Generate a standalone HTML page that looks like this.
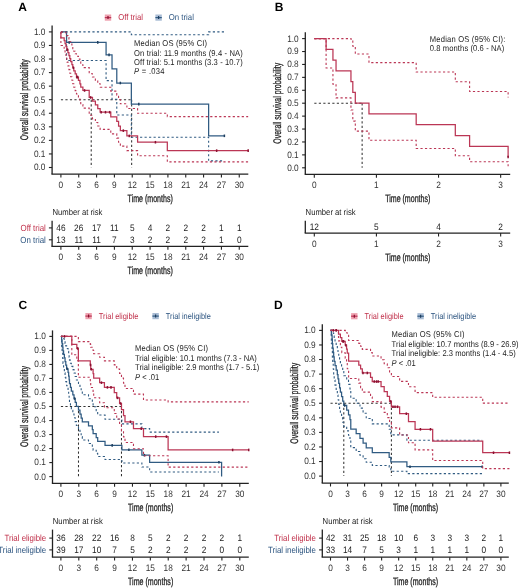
<!DOCTYPE html>
<html><head><meta charset="utf-8"><style>
html,body{margin:0;padding:0;background:#fff;}
svg{display:block;will-change:transform;}
text{font-family:"Liberation Sans",sans-serif;text-rendering:geometricPrecision;}
</style></head><body>
<svg width="520" height="588" viewBox="0 0 520 588">
<rect width="520" height="588" fill="#fff"/>
<text transform="translate(18.20,10.60) scale(1,1.0)" font-size="12" text-anchor="start" fill="#000" font-weight="bold" font-style="normal">A</text>
<rect x="104.80" y="14.50" width="6.4" height="6.2" fill="#eea2b0"/>
<line x1="104.80" y1="17.60" x2="111.20" y2="17.60" stroke="#bb3655" stroke-width="1.2"/>
<line x1="108.00" y1="16.10" x2="108.00" y2="19.10" stroke="#8a1030" stroke-width="1.2"/>
<text transform="translate(118.20,20.30) scale(1,1.13)" font-size="7.6" text-anchor="start" fill="#c0304a" font-weight="normal" font-style="normal" textLength="24.7" lengthAdjust="spacingAndGlyphs">Off trial</text>
<rect x="155.40" y="14.50" width="6.4" height="6.2" fill="#a9bcd4"/>
<line x1="155.40" y1="17.60" x2="161.80" y2="17.60" stroke="#305b82" stroke-width="1.2"/>
<line x1="158.60" y1="16.10" x2="158.60" y2="19.10" stroke="#1f3f5f" stroke-width="1.2"/>
<text transform="translate(168.80,20.30) scale(1,1.13)" font-size="7.6" text-anchor="start" fill="#2d5580" font-weight="normal" font-style="normal" textLength="25.1" lengthAdjust="spacingAndGlyphs">On trial</text>
<line x1="52.10" y1="25.40" x2="52.10" y2="174.20" stroke="#222" stroke-width="1.3"/>
<line x1="51.45" y1="174.20" x2="248.30" y2="174.20" stroke="#222" stroke-width="1.3"/>
<line x1="48.90" y1="167.50" x2="52.10" y2="167.50" stroke="#222" stroke-width="1.1"/>
<text transform="translate(45.50,170.40) scale(1,1.13)" font-size="8.3" text-anchor="end" fill="#333" font-weight="normal" font-style="normal">0.0</text>
<line x1="48.90" y1="153.94" x2="52.10" y2="153.94" stroke="#222" stroke-width="1.1"/>
<text transform="translate(45.50,156.84) scale(1,1.13)" font-size="8.3" text-anchor="end" fill="#333" font-weight="normal" font-style="normal">0.1</text>
<line x1="48.90" y1="140.38" x2="52.10" y2="140.38" stroke="#222" stroke-width="1.1"/>
<text transform="translate(45.50,143.28) scale(1,1.13)" font-size="8.3" text-anchor="end" fill="#333" font-weight="normal" font-style="normal">0.2</text>
<line x1="48.90" y1="126.82" x2="52.10" y2="126.82" stroke="#222" stroke-width="1.1"/>
<text transform="translate(45.50,129.72) scale(1,1.13)" font-size="8.3" text-anchor="end" fill="#333" font-weight="normal" font-style="normal">0.3</text>
<line x1="48.90" y1="113.26" x2="52.10" y2="113.26" stroke="#222" stroke-width="1.1"/>
<text transform="translate(45.50,116.16) scale(1,1.13)" font-size="8.3" text-anchor="end" fill="#333" font-weight="normal" font-style="normal">0.4</text>
<line x1="48.90" y1="99.70" x2="52.10" y2="99.70" stroke="#222" stroke-width="1.1"/>
<text transform="translate(45.50,102.60) scale(1,1.13)" font-size="8.3" text-anchor="end" fill="#333" font-weight="normal" font-style="normal">0.5</text>
<line x1="48.90" y1="86.14" x2="52.10" y2="86.14" stroke="#222" stroke-width="1.1"/>
<text transform="translate(45.50,89.04) scale(1,1.13)" font-size="8.3" text-anchor="end" fill="#333" font-weight="normal" font-style="normal">0.6</text>
<line x1="48.90" y1="72.58" x2="52.10" y2="72.58" stroke="#222" stroke-width="1.1"/>
<text transform="translate(45.50,75.48) scale(1,1.13)" font-size="8.3" text-anchor="end" fill="#333" font-weight="normal" font-style="normal">0.7</text>
<line x1="48.90" y1="59.02" x2="52.10" y2="59.02" stroke="#222" stroke-width="1.1"/>
<text transform="translate(45.50,61.92) scale(1,1.13)" font-size="8.3" text-anchor="end" fill="#333" font-weight="normal" font-style="normal">0.8</text>
<line x1="48.90" y1="45.46" x2="52.10" y2="45.46" stroke="#222" stroke-width="1.1"/>
<text transform="translate(45.50,48.36) scale(1,1.13)" font-size="8.3" text-anchor="end" fill="#333" font-weight="normal" font-style="normal">0.9</text>
<line x1="48.90" y1="31.90" x2="52.10" y2="31.90" stroke="#222" stroke-width="1.1"/>
<text transform="translate(45.50,34.80) scale(1,1.13)" font-size="8.3" text-anchor="end" fill="#333" font-weight="normal" font-style="normal">1.0</text>
<line x1="60.90" y1="174.20" x2="60.90" y2="177.60" stroke="#222" stroke-width="1.1"/>
<text transform="translate(60.90,187.90) scale(1,1.13)" font-size="8.3" text-anchor="middle" fill="#333" font-weight="normal" font-style="normal">0</text>
<line x1="78.73" y1="174.20" x2="78.73" y2="177.60" stroke="#222" stroke-width="1.1"/>
<text transform="translate(78.73,187.90) scale(1,1.13)" font-size="8.3" text-anchor="middle" fill="#333" font-weight="normal" font-style="normal">3</text>
<line x1="96.57" y1="174.20" x2="96.57" y2="177.60" stroke="#222" stroke-width="1.1"/>
<text transform="translate(96.57,187.90) scale(1,1.13)" font-size="8.3" text-anchor="middle" fill="#333" font-weight="normal" font-style="normal">6</text>
<line x1="114.41" y1="174.20" x2="114.41" y2="177.60" stroke="#222" stroke-width="1.1"/>
<text transform="translate(114.41,187.90) scale(1,1.13)" font-size="8.3" text-anchor="middle" fill="#333" font-weight="normal" font-style="normal">9</text>
<line x1="132.24" y1="174.20" x2="132.24" y2="177.60" stroke="#222" stroke-width="1.1"/>
<text transform="translate(132.24,187.90) scale(1,1.13)" font-size="8.3" text-anchor="middle" fill="#333" font-weight="normal" font-style="normal">12</text>
<line x1="150.08" y1="174.20" x2="150.08" y2="177.60" stroke="#222" stroke-width="1.1"/>
<text transform="translate(150.08,187.90) scale(1,1.13)" font-size="8.3" text-anchor="middle" fill="#333" font-weight="normal" font-style="normal">15</text>
<line x1="167.91" y1="174.20" x2="167.91" y2="177.60" stroke="#222" stroke-width="1.1"/>
<text transform="translate(167.91,187.90) scale(1,1.13)" font-size="8.3" text-anchor="middle" fill="#333" font-weight="normal" font-style="normal">18</text>
<line x1="185.75" y1="174.20" x2="185.75" y2="177.60" stroke="#222" stroke-width="1.1"/>
<text transform="translate(185.75,187.90) scale(1,1.13)" font-size="8.3" text-anchor="middle" fill="#333" font-weight="normal" font-style="normal">21</text>
<line x1="203.58" y1="174.20" x2="203.58" y2="177.60" stroke="#222" stroke-width="1.1"/>
<text transform="translate(203.58,187.90) scale(1,1.13)" font-size="8.3" text-anchor="middle" fill="#333" font-weight="normal" font-style="normal">24</text>
<line x1="221.42" y1="174.20" x2="221.42" y2="177.60" stroke="#222" stroke-width="1.1"/>
<text transform="translate(221.42,187.90) scale(1,1.13)" font-size="8.3" text-anchor="middle" fill="#333" font-weight="normal" font-style="normal">27</text>
<line x1="239.25" y1="174.20" x2="239.25" y2="177.60" stroke="#222" stroke-width="1.1"/>
<text transform="translate(239.25,187.90) scale(1,1.13)" font-size="8.3" text-anchor="middle" fill="#333" font-weight="normal" font-style="normal">30</text>
<text x="0" y="0" font-size="9.8" text-anchor="middle" fill="#222" stroke="#222" stroke-width="0.28" transform="translate(150.20,202.10) scale(0.72,1.08)">Time (months)</text>
<text x="0" y="0" font-size="10.2" text-anchor="middle" fill="#222" stroke="#222" stroke-width="0.28" transform="translate(28.00,99.70) rotate(-90) scale(0.68,1.08)">Overall survival probability</text>
<path d="M60.90,99.70H131.65" fill="none" stroke="#333" stroke-width="1.05" stroke-dasharray="2.2,2.3"/>
<path d="M91.22,99.70V167.50" fill="none" stroke="#333" stroke-width="1.05" stroke-dasharray="2.2,2.3"/>
<path d="M131.65,99.70V167.50" fill="none" stroke="#333" stroke-width="1.05" stroke-dasharray="2.2,2.3"/>
<path d="M60.90,31.90H66.55V60.51H106.08V80.59H112.03V99.32H116.78V115.05H131.35V137.26H208.63V160.92H224.39" fill="none" stroke="#305b82" stroke-width="1.1" stroke-dasharray="2.2,2.3"/>
<path d="M60.90,31.90H66.55V31.90H106.08V31.90H112.03V31.90H116.78V31.90H131.35V34.70H208.63V31.90H224.39" fill="none" stroke="#305b82" stroke-width="1.1" stroke-dasharray="2.2,2.3"/>
<path d="M60.90,31.90H66.55V42.33H106.08V54.85H112.03V68.93H116.78V83.01H131.35V104.13H208.63V135.82H224.39" fill="none" stroke="#305b82" stroke-width="1.25"/>
<line x1="69.22" y1="41.03" x2="69.22" y2="43.63" stroke="#1f3f5f" stroke-width="1.5"/>
<line x1="97.76" y1="41.03" x2="97.76" y2="43.63" stroke="#1f3f5f" stroke-width="1.5"/>
<line x1="109.05" y1="53.55" x2="109.05" y2="56.15" stroke="#1f3f5f" stroke-width="1.5"/>
<line x1="120.35" y1="81.71" x2="120.35" y2="84.31" stroke="#1f3f5f" stroke-width="1.5"/>
<line x1="138.78" y1="102.83" x2="138.78" y2="105.43" stroke="#1f3f5f" stroke-width="1.5"/>
<line x1="224.39" y1="134.52" x2="224.39" y2="137.12" stroke="#1f3f5f" stroke-width="1.5"/>
<path d="M60.90,31.90H60.90V45.55H64.17V50.06H65.06V54.25H65.95V58.24H66.84V62.07H67.92V65.90H68.93V69.62H69.82V73.25H70.71V76.80H71.90V80.28H72.79V83.70H73.80V87.19H75.17V90.62H76.48V93.99H78.44V97.61H79.92V101.17H80.76V104.67H82.90V108.11H89.20V115.19H92.47V118.86H95.38V122.46H97.76V125.98H100.14V129.42H110.78V133.87H116.78V138.14H118.57V142.24H120.35V146.17H126.89V150.59H137.59V155.72H167.32V161.92H248.17" fill="none" stroke="#bb3655" stroke-width="1.1" stroke-dasharray="2.2,2.3"/>
<path d="M60.90,31.90H60.90V31.90H64.17V31.90H65.06V32.14H65.95V33.81H66.84V35.62H67.92V37.58H68.93V39.64H69.82V41.80H70.71V44.04H71.90V46.34H72.79V48.71H73.80V51.18H75.17V53.70H76.48V56.28H78.44V59.02H79.92V61.82H80.76V64.69H82.90V67.61H89.20V73.77H92.47V77.03H95.38V80.36H97.76V83.77H100.14V87.24H110.78V91.15H116.78V95.21H118.57V99.44H120.35V103.82H126.89V108.49H137.59V113.29H167.32V116.59H248.17" fill="none" stroke="#bb3655" stroke-width="1.1" stroke-dasharray="2.2,2.3"/>
<path d="M60.90,31.90H60.90V37.80H64.17V40.74H65.06V43.69H65.95V46.64H66.84V49.59H67.92V52.61H68.93V55.63H69.82V58.66H70.71V61.68H71.90V64.70H72.79V67.73H73.80V70.85H75.17V73.96H76.48V77.08H78.44V80.43H79.92V83.78H80.76V87.13H82.90V90.48H89.20V97.48H92.47V101.16H95.38V104.85H97.76V108.53H100.14V112.22H110.78V116.83H116.78V121.43H118.57V126.04H120.35V130.65H126.89V135.91H137.59V142.23H167.32V150.65H248.17" fill="none" stroke="#bb3655" stroke-width="1.25"/>
<line x1="67.44" y1="48.29" x2="67.44" y2="50.89" stroke="#8a1030" stroke-width="1.5"/>
<line x1="73.38" y1="66.43" x2="73.38" y2="69.03" stroke="#8a1030" stroke-width="1.5"/>
<line x1="76.95" y1="75.78" x2="76.95" y2="78.38" stroke="#8a1030" stroke-width="1.5"/>
<line x1="77.55" y1="75.78" x2="77.55" y2="78.38" stroke="#8a1030" stroke-width="1.5"/>
<line x1="84.56" y1="89.18" x2="84.56" y2="91.78" stroke="#8a1030" stroke-width="1.5"/>
<line x1="90.62" y1="96.18" x2="90.62" y2="98.78" stroke="#8a1030" stroke-width="1.5"/>
<line x1="101.15" y1="110.92" x2="101.15" y2="113.52" stroke="#8a1030" stroke-width="1.5"/>
<line x1="105.49" y1="110.92" x2="105.49" y2="113.52" stroke="#8a1030" stroke-width="1.5"/>
<line x1="109.65" y1="110.92" x2="109.65" y2="113.52" stroke="#8a1030" stroke-width="1.5"/>
<line x1="123.32" y1="129.35" x2="123.32" y2="131.95" stroke="#8a1030" stroke-width="1.5"/>
<line x1="129.27" y1="134.61" x2="129.27" y2="137.21" stroke="#8a1030" stroke-width="1.5"/>
<line x1="155.43" y1="140.93" x2="155.43" y2="143.53" stroke="#8a1030" stroke-width="1.5"/>
<line x1="216.66" y1="149.35" x2="216.66" y2="151.95" stroke="#8a1030" stroke-width="1.5"/>
<line x1="248.17" y1="149.35" x2="248.17" y2="151.95" stroke="#8a1030" stroke-width="1.5"/>
<text transform="translate(134.10,45.50) scale(1,1.12)" font-size="7.6" text-anchor="start" fill="#222" font-weight="normal" font-style="normal" textLength="73.0" lengthAdjust="spacing">Median OS (95% CI)</text>
<text transform="translate(134.10,55.50) scale(1,1.12)" font-size="7.6" text-anchor="start" fill="#222" font-weight="normal" font-style="normal" textLength="108.6" lengthAdjust="spacing">On trial: 11.9 months (9.4 - NA)</text>
<text transform="translate(134.10,64.90) scale(1,1.12)" font-size="7.6" text-anchor="start" fill="#222" font-weight="normal" font-style="normal" textLength="108.6" lengthAdjust="spacing">Off trial: 5.1 months (3.3 - 10.7)</text>
<text transform="translate(134.10,74.00) scale(1,1.12)" font-size="7.6" fill="#222" textLength="30.5" lengthAdjust="spacing"><tspan font-style="italic">P</tspan> = .034</text>
<text transform="translate(52.40,215.20) scale(1,1.13)" font-size="7.7" text-anchor="start" fill="#222" font-weight="normal" font-style="normal">Number at risk</text>
<line x1="52.10" y1="220.80" x2="52.10" y2="246.40" stroke="#222" stroke-width="1.3"/>
<line x1="51.45" y1="246.40" x2="248.30" y2="246.40" stroke="#222" stroke-width="1.3"/>
<line x1="48.90" y1="227.90" x2="52.10" y2="227.90" stroke="#222" stroke-width="1.1"/>
<text transform="translate(45.80,230.70) scale(1,1.13)" font-size="7.9" text-anchor="end" fill="#c0304a" font-weight="normal" font-style="normal">Off trial</text>
<text transform="translate(60.90,230.80) scale(1,1.13)" font-size="8.3" text-anchor="middle" fill="#222" font-weight="normal" font-style="normal">46</text>
<text transform="translate(78.73,230.80) scale(1,1.13)" font-size="8.3" text-anchor="middle" fill="#222" font-weight="normal" font-style="normal">26</text>
<text transform="translate(96.57,230.80) scale(1,1.13)" font-size="8.3" text-anchor="middle" fill="#222" font-weight="normal" font-style="normal">17</text>
<text transform="translate(114.41,230.80) scale(1,1.13)" font-size="8.3" text-anchor="middle" fill="#222" font-weight="normal" font-style="normal">11</text>
<text transform="translate(132.24,230.80) scale(1,1.13)" font-size="8.3" text-anchor="middle" fill="#222" font-weight="normal" font-style="normal">5</text>
<text transform="translate(150.08,230.80) scale(1,1.13)" font-size="8.3" text-anchor="middle" fill="#222" font-weight="normal" font-style="normal">4</text>
<text transform="translate(167.91,230.80) scale(1,1.13)" font-size="8.3" text-anchor="middle" fill="#222" font-weight="normal" font-style="normal">2</text>
<text transform="translate(185.75,230.80) scale(1,1.13)" font-size="8.3" text-anchor="middle" fill="#222" font-weight="normal" font-style="normal">2</text>
<text transform="translate(203.58,230.80) scale(1,1.13)" font-size="8.3" text-anchor="middle" fill="#222" font-weight="normal" font-style="normal">2</text>
<text transform="translate(221.42,230.80) scale(1,1.13)" font-size="8.3" text-anchor="middle" fill="#222" font-weight="normal" font-style="normal">1</text>
<text transform="translate(239.25,230.80) scale(1,1.13)" font-size="8.3" text-anchor="middle" fill="#222" font-weight="normal" font-style="normal">1</text>
<line x1="48.90" y1="239.80" x2="52.10" y2="239.80" stroke="#222" stroke-width="1.1"/>
<text transform="translate(45.80,242.60) scale(1,1.13)" font-size="7.9" text-anchor="end" fill="#2d5580" font-weight="normal" font-style="normal">On trial</text>
<text transform="translate(60.90,242.70) scale(1,1.13)" font-size="8.3" text-anchor="middle" fill="#222" font-weight="normal" font-style="normal">13</text>
<text transform="translate(78.73,242.70) scale(1,1.13)" font-size="8.3" text-anchor="middle" fill="#222" font-weight="normal" font-style="normal">11</text>
<text transform="translate(96.57,242.70) scale(1,1.13)" font-size="8.3" text-anchor="middle" fill="#222" font-weight="normal" font-style="normal">11</text>
<text transform="translate(114.41,242.70) scale(1,1.13)" font-size="8.3" text-anchor="middle" fill="#222" font-weight="normal" font-style="normal">7</text>
<text transform="translate(132.24,242.70) scale(1,1.13)" font-size="8.3" text-anchor="middle" fill="#222" font-weight="normal" font-style="normal">3</text>
<text transform="translate(150.08,242.70) scale(1,1.13)" font-size="8.3" text-anchor="middle" fill="#222" font-weight="normal" font-style="normal">2</text>
<text transform="translate(167.91,242.70) scale(1,1.13)" font-size="8.3" text-anchor="middle" fill="#222" font-weight="normal" font-style="normal">2</text>
<text transform="translate(185.75,242.70) scale(1,1.13)" font-size="8.3" text-anchor="middle" fill="#222" font-weight="normal" font-style="normal">2</text>
<text transform="translate(203.58,242.70) scale(1,1.13)" font-size="8.3" text-anchor="middle" fill="#222" font-weight="normal" font-style="normal">2</text>
<text transform="translate(221.42,242.70) scale(1,1.13)" font-size="8.3" text-anchor="middle" fill="#222" font-weight="normal" font-style="normal">1</text>
<text transform="translate(239.25,242.70) scale(1,1.13)" font-size="8.3" text-anchor="middle" fill="#222" font-weight="normal" font-style="normal">0</text>
<line x1="60.90" y1="246.40" x2="60.90" y2="249.80" stroke="#222" stroke-width="1.1"/>
<text transform="translate(60.90,260.10) scale(1,1.13)" font-size="8.3" text-anchor="middle" fill="#333" font-weight="normal" font-style="normal">0</text>
<line x1="78.73" y1="246.40" x2="78.73" y2="249.80" stroke="#222" stroke-width="1.1"/>
<text transform="translate(78.73,260.10) scale(1,1.13)" font-size="8.3" text-anchor="middle" fill="#333" font-weight="normal" font-style="normal">3</text>
<line x1="96.57" y1="246.40" x2="96.57" y2="249.80" stroke="#222" stroke-width="1.1"/>
<text transform="translate(96.57,260.10) scale(1,1.13)" font-size="8.3" text-anchor="middle" fill="#333" font-weight="normal" font-style="normal">6</text>
<line x1="114.41" y1="246.40" x2="114.41" y2="249.80" stroke="#222" stroke-width="1.1"/>
<text transform="translate(114.41,260.10) scale(1,1.13)" font-size="8.3" text-anchor="middle" fill="#333" font-weight="normal" font-style="normal">9</text>
<line x1="132.24" y1="246.40" x2="132.24" y2="249.80" stroke="#222" stroke-width="1.1"/>
<text transform="translate(132.24,260.10) scale(1,1.13)" font-size="8.3" text-anchor="middle" fill="#333" font-weight="normal" font-style="normal">12</text>
<line x1="150.08" y1="246.40" x2="150.08" y2="249.80" stroke="#222" stroke-width="1.1"/>
<text transform="translate(150.08,260.10) scale(1,1.13)" font-size="8.3" text-anchor="middle" fill="#333" font-weight="normal" font-style="normal">15</text>
<line x1="167.91" y1="246.40" x2="167.91" y2="249.80" stroke="#222" stroke-width="1.1"/>
<text transform="translate(167.91,260.10) scale(1,1.13)" font-size="8.3" text-anchor="middle" fill="#333" font-weight="normal" font-style="normal">18</text>
<line x1="185.75" y1="246.40" x2="185.75" y2="249.80" stroke="#222" stroke-width="1.1"/>
<text transform="translate(185.75,260.10) scale(1,1.13)" font-size="8.3" text-anchor="middle" fill="#333" font-weight="normal" font-style="normal">21</text>
<line x1="203.58" y1="246.40" x2="203.58" y2="249.80" stroke="#222" stroke-width="1.1"/>
<text transform="translate(203.58,260.10) scale(1,1.13)" font-size="8.3" text-anchor="middle" fill="#333" font-weight="normal" font-style="normal">24</text>
<line x1="221.42" y1="246.40" x2="221.42" y2="249.80" stroke="#222" stroke-width="1.1"/>
<text transform="translate(221.42,260.10) scale(1,1.13)" font-size="8.3" text-anchor="middle" fill="#333" font-weight="normal" font-style="normal">27</text>
<line x1="239.25" y1="246.40" x2="239.25" y2="249.80" stroke="#222" stroke-width="1.1"/>
<text transform="translate(239.25,260.10) scale(1,1.13)" font-size="8.3" text-anchor="middle" fill="#333" font-weight="normal" font-style="normal">30</text>
<text x="0" y="0" font-size="9.8" text-anchor="middle" fill="#222" stroke="#222" stroke-width="0.28" transform="translate(150.20,274.30) scale(0.72,1.08)">Time (months)</text>
<text transform="translate(274.80,10.60) scale(1,1.0)" font-size="12" text-anchor="start" fill="#000" font-weight="bold" font-style="normal">B</text>
<line x1="305.30" y1="32.20" x2="305.30" y2="174.30" stroke="#222" stroke-width="1.3"/>
<line x1="304.65" y1="174.30" x2="510.20" y2="174.30" stroke="#222" stroke-width="1.3"/>
<line x1="302.10" y1="167.80" x2="305.30" y2="167.80" stroke="#222" stroke-width="1.1"/>
<text transform="translate(298.70,170.70) scale(1,1.13)" font-size="8.3" text-anchor="end" fill="#333" font-weight="normal" font-style="normal">0.0</text>
<line x1="302.10" y1="154.88" x2="305.30" y2="154.88" stroke="#222" stroke-width="1.1"/>
<text transform="translate(298.70,157.78) scale(1,1.13)" font-size="8.3" text-anchor="end" fill="#333" font-weight="normal" font-style="normal">0.1</text>
<line x1="302.10" y1="141.96" x2="305.30" y2="141.96" stroke="#222" stroke-width="1.1"/>
<text transform="translate(298.70,144.86) scale(1,1.13)" font-size="8.3" text-anchor="end" fill="#333" font-weight="normal" font-style="normal">0.2</text>
<line x1="302.10" y1="129.04" x2="305.30" y2="129.04" stroke="#222" stroke-width="1.1"/>
<text transform="translate(298.70,131.94) scale(1,1.13)" font-size="8.3" text-anchor="end" fill="#333" font-weight="normal" font-style="normal">0.3</text>
<line x1="302.10" y1="116.12" x2="305.30" y2="116.12" stroke="#222" stroke-width="1.1"/>
<text transform="translate(298.70,119.02) scale(1,1.13)" font-size="8.3" text-anchor="end" fill="#333" font-weight="normal" font-style="normal">0.4</text>
<line x1="302.10" y1="103.20" x2="305.30" y2="103.20" stroke="#222" stroke-width="1.1"/>
<text transform="translate(298.70,106.10) scale(1,1.13)" font-size="8.3" text-anchor="end" fill="#333" font-weight="normal" font-style="normal">0.5</text>
<line x1="302.10" y1="90.28" x2="305.30" y2="90.28" stroke="#222" stroke-width="1.1"/>
<text transform="translate(298.70,93.18) scale(1,1.13)" font-size="8.3" text-anchor="end" fill="#333" font-weight="normal" font-style="normal">0.6</text>
<line x1="302.10" y1="77.36" x2="305.30" y2="77.36" stroke="#222" stroke-width="1.1"/>
<text transform="translate(298.70,80.26) scale(1,1.13)" font-size="8.3" text-anchor="end" fill="#333" font-weight="normal" font-style="normal">0.7</text>
<line x1="302.10" y1="64.44" x2="305.30" y2="64.44" stroke="#222" stroke-width="1.1"/>
<text transform="translate(298.70,67.34) scale(1,1.13)" font-size="8.3" text-anchor="end" fill="#333" font-weight="normal" font-style="normal">0.8</text>
<line x1="302.10" y1="51.52" x2="305.30" y2="51.52" stroke="#222" stroke-width="1.1"/>
<text transform="translate(298.70,54.42) scale(1,1.13)" font-size="8.3" text-anchor="end" fill="#333" font-weight="normal" font-style="normal">0.9</text>
<line x1="302.10" y1="38.60" x2="305.30" y2="38.60" stroke="#222" stroke-width="1.1"/>
<text transform="translate(298.70,41.50) scale(1,1.13)" font-size="8.3" text-anchor="end" fill="#333" font-weight="normal" font-style="normal">1.0</text>
<line x1="314.30" y1="174.30" x2="314.30" y2="177.70" stroke="#222" stroke-width="1.1"/>
<text transform="translate(314.30,188.00) scale(1,1.13)" font-size="8.3" text-anchor="middle" fill="#333" font-weight="normal" font-style="normal">0</text>
<line x1="376.42" y1="174.30" x2="376.42" y2="177.70" stroke="#222" stroke-width="1.1"/>
<text transform="translate(376.42,188.00) scale(1,1.13)" font-size="8.3" text-anchor="middle" fill="#333" font-weight="normal" font-style="normal">1</text>
<line x1="438.54" y1="174.30" x2="438.54" y2="177.70" stroke="#222" stroke-width="1.1"/>
<text transform="translate(438.54,188.00) scale(1,1.13)" font-size="8.3" text-anchor="middle" fill="#333" font-weight="normal" font-style="normal">2</text>
<line x1="500.66" y1="174.30" x2="500.66" y2="177.70" stroke="#222" stroke-width="1.1"/>
<text transform="translate(500.66,188.00) scale(1,1.13)" font-size="8.3" text-anchor="middle" fill="#333" font-weight="normal" font-style="normal">3</text>
<text x="0" y="0" font-size="9.8" text-anchor="middle" fill="#222" stroke="#222" stroke-width="0.28" transform="translate(407.75,202.20) scale(0.72,1.08)">Time (months)</text>
<text x="0" y="0" font-size="10.2" text-anchor="middle" fill="#222" stroke="#222" stroke-width="0.28" transform="translate(281.20,103.20) rotate(-90) scale(0.68,1.08)">Overall survival probability</text>
<path d="M314.30,103.20H362.13" fill="none" stroke="#333" stroke-width="1.05" stroke-dasharray="2.2,2.3"/>
<path d="M362.13,103.20V167.80" fill="none" stroke="#333" stroke-width="1.05" stroke-dasharray="2.2,2.3"/>
<path d="M314.30,38.60H326.10V67.94H332.94V84.20H336.04V97.90H350.95V110.07H352.81V121.08H355.30V131.11H368.97V140.24H416.18V148.45H455.31V155.68H469.60V161.72H508.11V166.15H508.11" fill="none" stroke="#bb3655" stroke-width="1.1" stroke-dasharray="2.2,2.3"/>
<path d="M314.30,38.60H326.10V38.60H332.94V38.60H336.04V38.60H350.95V39.29H352.81V46.22H355.30V54.05H368.97V62.65H416.18V71.94H455.31V81.74H469.60V91.49H508.11V97.48H508.11" fill="none" stroke="#bb3655" stroke-width="1.1" stroke-dasharray="2.2,2.3"/>
<path d="M314.30,38.60H326.10V49.37H332.94V60.13H336.04V70.90H350.95V81.67H352.81V92.43H355.30V103.20H368.97V113.97H416.18V124.73H455.31V135.50H469.60V146.27H508.11V157.03H508.11" fill="none" stroke="#bb3655" stroke-width="1.25"/>
<line x1="508.11" y1="155.73" x2="508.11" y2="158.33" stroke="#8a1030" stroke-width="1.5"/>
<text transform="translate(429.80,42.10) scale(1,1.12)" font-size="7.6" text-anchor="start" fill="#222" font-weight="normal" font-style="normal" textLength="75.6" lengthAdjust="spacing">Median OS (95% CI):</text>
<text transform="translate(429.80,51.30) scale(1,1.12)" font-size="7.6" text-anchor="start" fill="#222" font-weight="normal" font-style="normal" textLength="74.4" lengthAdjust="spacing">0.8 months (0.6 - NA)</text>
<text transform="translate(305.60,215.30) scale(1,1.13)" font-size="7.7" text-anchor="start" fill="#222" font-weight="normal" font-style="normal">Number at risk</text>
<line x1="305.30" y1="220.80" x2="305.30" y2="233.10" stroke="#222" stroke-width="1.3"/>
<line x1="304.65" y1="233.10" x2="510.20" y2="233.10" stroke="#222" stroke-width="1.3"/>
<text transform="translate(314.30,229.80) scale(1,1.13)" font-size="8.3" text-anchor="middle" fill="#222" font-weight="normal" font-style="normal">12</text>
<text transform="translate(376.42,229.80) scale(1,1.13)" font-size="8.3" text-anchor="middle" fill="#222" font-weight="normal" font-style="normal">5</text>
<text transform="translate(438.54,229.80) scale(1,1.13)" font-size="8.3" text-anchor="middle" fill="#222" font-weight="normal" font-style="normal">4</text>
<text transform="translate(500.66,229.80) scale(1,1.13)" font-size="8.3" text-anchor="middle" fill="#222" font-weight="normal" font-style="normal">2</text>
<line x1="314.30" y1="233.10" x2="314.30" y2="236.50" stroke="#222" stroke-width="1.1"/>
<text transform="translate(314.30,246.80) scale(1,1.13)" font-size="8.3" text-anchor="middle" fill="#333" font-weight="normal" font-style="normal">0</text>
<line x1="376.42" y1="233.10" x2="376.42" y2="236.50" stroke="#222" stroke-width="1.1"/>
<text transform="translate(376.42,246.80) scale(1,1.13)" font-size="8.3" text-anchor="middle" fill="#333" font-weight="normal" font-style="normal">1</text>
<line x1="438.54" y1="233.10" x2="438.54" y2="236.50" stroke="#222" stroke-width="1.1"/>
<text transform="translate(438.54,246.80) scale(1,1.13)" font-size="8.3" text-anchor="middle" fill="#333" font-weight="normal" font-style="normal">2</text>
<line x1="500.66" y1="233.10" x2="500.66" y2="236.50" stroke="#222" stroke-width="1.1"/>
<text transform="translate(500.66,246.80) scale(1,1.13)" font-size="8.3" text-anchor="middle" fill="#333" font-weight="normal" font-style="normal">3</text>
<text x="0" y="0" font-size="9.8" text-anchor="middle" fill="#222" stroke="#222" stroke-width="0.28" transform="translate(407.75,261.00) scale(0.72,1.08)">Time (months)</text>
<text transform="translate(18.60,309.30) scale(1,1.0)" font-size="12" text-anchor="start" fill="#000" font-weight="bold" font-style="normal">C</text>
<rect x="85.40" y="313.00" width="6.4" height="6.2" fill="#eea2b0"/>
<line x1="85.40" y1="316.10" x2="91.80" y2="316.10" stroke="#bb3655" stroke-width="1.2"/>
<line x1="88.60" y1="314.60" x2="88.60" y2="317.60" stroke="#8a1030" stroke-width="1.2"/>
<text transform="translate(98.80,318.80) scale(1,1.13)" font-size="7.6" text-anchor="start" fill="#c0304a" font-weight="normal" font-style="normal" textLength="39.7" lengthAdjust="spacingAndGlyphs">Trial eligible</text>
<rect x="152.40" y="313.00" width="6.4" height="6.2" fill="#a9bcd4"/>
<line x1="152.40" y1="316.10" x2="158.80" y2="316.10" stroke="#305b82" stroke-width="1.2"/>
<line x1="155.60" y1="314.60" x2="155.60" y2="317.60" stroke="#1f3f5f" stroke-width="1.2"/>
<text transform="translate(165.80,318.80) scale(1,1.13)" font-size="7.6" text-anchor="start" fill="#2d5580" font-weight="normal" font-style="normal" textLength="45.0" lengthAdjust="spacingAndGlyphs">Trial ineligible</text>
<line x1="52.50" y1="330.40" x2="52.50" y2="483.30" stroke="#222" stroke-width="1.3"/>
<line x1="51.85" y1="483.30" x2="248.80" y2="483.30" stroke="#222" stroke-width="1.3"/>
<line x1="49.30" y1="476.60" x2="52.50" y2="476.60" stroke="#222" stroke-width="1.1"/>
<text transform="translate(45.90,479.50) scale(1,1.13)" font-size="8.3" text-anchor="end" fill="#333" font-weight="normal" font-style="normal">0.0</text>
<line x1="49.30" y1="462.58" x2="52.50" y2="462.58" stroke="#222" stroke-width="1.1"/>
<text transform="translate(45.90,465.48) scale(1,1.13)" font-size="8.3" text-anchor="end" fill="#333" font-weight="normal" font-style="normal">0.1</text>
<line x1="49.30" y1="448.56" x2="52.50" y2="448.56" stroke="#222" stroke-width="1.1"/>
<text transform="translate(45.90,451.46) scale(1,1.13)" font-size="8.3" text-anchor="end" fill="#333" font-weight="normal" font-style="normal">0.2</text>
<line x1="49.30" y1="434.54" x2="52.50" y2="434.54" stroke="#222" stroke-width="1.1"/>
<text transform="translate(45.90,437.44) scale(1,1.13)" font-size="8.3" text-anchor="end" fill="#333" font-weight="normal" font-style="normal">0.3</text>
<line x1="49.30" y1="420.52" x2="52.50" y2="420.52" stroke="#222" stroke-width="1.1"/>
<text transform="translate(45.90,423.42) scale(1,1.13)" font-size="8.3" text-anchor="end" fill="#333" font-weight="normal" font-style="normal">0.4</text>
<line x1="49.30" y1="406.50" x2="52.50" y2="406.50" stroke="#222" stroke-width="1.1"/>
<text transform="translate(45.90,409.40) scale(1,1.13)" font-size="8.3" text-anchor="end" fill="#333" font-weight="normal" font-style="normal">0.5</text>
<line x1="49.30" y1="392.48" x2="52.50" y2="392.48" stroke="#222" stroke-width="1.1"/>
<text transform="translate(45.90,395.38) scale(1,1.13)" font-size="8.3" text-anchor="end" fill="#333" font-weight="normal" font-style="normal">0.6</text>
<line x1="49.30" y1="378.46" x2="52.50" y2="378.46" stroke="#222" stroke-width="1.1"/>
<text transform="translate(45.90,381.36) scale(1,1.13)" font-size="8.3" text-anchor="end" fill="#333" font-weight="normal" font-style="normal">0.7</text>
<line x1="49.30" y1="364.44" x2="52.50" y2="364.44" stroke="#222" stroke-width="1.1"/>
<text transform="translate(45.90,367.34) scale(1,1.13)" font-size="8.3" text-anchor="end" fill="#333" font-weight="normal" font-style="normal">0.8</text>
<line x1="49.30" y1="350.42" x2="52.50" y2="350.42" stroke="#222" stroke-width="1.1"/>
<text transform="translate(45.90,353.32) scale(1,1.13)" font-size="8.3" text-anchor="end" fill="#333" font-weight="normal" font-style="normal">0.9</text>
<line x1="49.30" y1="336.40" x2="52.50" y2="336.40" stroke="#222" stroke-width="1.1"/>
<text transform="translate(45.90,339.30) scale(1,1.13)" font-size="8.3" text-anchor="end" fill="#333" font-weight="normal" font-style="normal">1.0</text>
<line x1="60.90" y1="483.30" x2="60.90" y2="486.70" stroke="#222" stroke-width="1.1"/>
<text transform="translate(60.90,497.00) scale(1,1.13)" font-size="8.3" text-anchor="middle" fill="#333" font-weight="normal" font-style="normal">0</text>
<line x1="78.79" y1="483.30" x2="78.79" y2="486.70" stroke="#222" stroke-width="1.1"/>
<text transform="translate(78.79,497.00) scale(1,1.13)" font-size="8.3" text-anchor="middle" fill="#333" font-weight="normal" font-style="normal">3</text>
<line x1="96.68" y1="483.30" x2="96.68" y2="486.70" stroke="#222" stroke-width="1.1"/>
<text transform="translate(96.68,497.00) scale(1,1.13)" font-size="8.3" text-anchor="middle" fill="#333" font-weight="normal" font-style="normal">6</text>
<line x1="114.57" y1="483.30" x2="114.57" y2="486.70" stroke="#222" stroke-width="1.1"/>
<text transform="translate(114.57,497.00) scale(1,1.13)" font-size="8.3" text-anchor="middle" fill="#333" font-weight="normal" font-style="normal">9</text>
<line x1="132.46" y1="483.30" x2="132.46" y2="486.70" stroke="#222" stroke-width="1.1"/>
<text transform="translate(132.46,497.00) scale(1,1.13)" font-size="8.3" text-anchor="middle" fill="#333" font-weight="normal" font-style="normal">12</text>
<line x1="150.34" y1="483.30" x2="150.34" y2="486.70" stroke="#222" stroke-width="1.1"/>
<text transform="translate(150.34,497.00) scale(1,1.13)" font-size="8.3" text-anchor="middle" fill="#333" font-weight="normal" font-style="normal">15</text>
<line x1="168.23" y1="483.30" x2="168.23" y2="486.70" stroke="#222" stroke-width="1.1"/>
<text transform="translate(168.23,497.00) scale(1,1.13)" font-size="8.3" text-anchor="middle" fill="#333" font-weight="normal" font-style="normal">18</text>
<line x1="186.12" y1="483.30" x2="186.12" y2="486.70" stroke="#222" stroke-width="1.1"/>
<text transform="translate(186.12,497.00) scale(1,1.13)" font-size="8.3" text-anchor="middle" fill="#333" font-weight="normal" font-style="normal">21</text>
<line x1="204.01" y1="483.30" x2="204.01" y2="486.70" stroke="#222" stroke-width="1.1"/>
<text transform="translate(204.01,497.00) scale(1,1.13)" font-size="8.3" text-anchor="middle" fill="#333" font-weight="normal" font-style="normal">24</text>
<line x1="221.90" y1="483.30" x2="221.90" y2="486.70" stroke="#222" stroke-width="1.1"/>
<text transform="translate(221.90,497.00) scale(1,1.13)" font-size="8.3" text-anchor="middle" fill="#333" font-weight="normal" font-style="normal">27</text>
<line x1="239.79" y1="483.30" x2="239.79" y2="486.70" stroke="#222" stroke-width="1.1"/>
<text transform="translate(239.79,497.00) scale(1,1.13)" font-size="8.3" text-anchor="middle" fill="#333" font-weight="normal" font-style="normal">30</text>
<text x="0" y="0" font-size="9.8" text-anchor="middle" fill="#222" stroke="#222" stroke-width="0.28" transform="translate(150.65,511.20) scale(0.72,1.08)">Time (months)</text>
<text x="0" y="0" font-size="10.2" text-anchor="middle" fill="#222" stroke="#222" stroke-width="0.28" transform="translate(28.30,406.50) rotate(-90) scale(0.68,1.08)">Overall survival probability</text>
<path d="M60.90,406.50H121.48" fill="none" stroke="#333" stroke-width="1.05" stroke-dasharray="2.2,2.3"/>
<path d="M78.49,406.50V476.60" fill="none" stroke="#333" stroke-width="1.05" stroke-dasharray="2.2,2.3"/>
<path d="M121.48,406.50V476.60" fill="none" stroke="#333" stroke-width="1.05" stroke-dasharray="2.2,2.3"/>
<path d="M60.90,336.40H61.62V346.78H62.09V352.95H62.69V358.39H62.99V363.45H63.58V368.23H64.36V372.83H65.07V377.27H65.79V381.58H66.62V385.79H68.06V390.07H68.65V394.26H69.13V398.36H69.49V402.38H70.44V406.33H71.34V410.20H72.83V414.01H74.02V417.75H75.21V421.65H76.40V425.48H78.49V429.23H79.98V432.92H81.17V436.53H82.31V440.06H88.51V443.52H92.33V446.91H93.10V450.21H96.20V453.42H97.69V456.55H105.03V459.57H121.90V463.01H141.88V467.04H149.63V472.02H218.92" fill="none" stroke="#305b82" stroke-width="1.1" stroke-dasharray="2.2,2.3"/>
<path d="M60.90,336.40H61.62V336.40H62.09V336.40H62.69V336.40H62.99V336.70H63.58V338.74H64.36V340.98H65.07V343.38H65.79V345.90H66.62V348.53H68.06V351.29H68.65V354.16H69.13V357.11H69.49V360.14H70.44V363.25H71.34V366.42H72.83V369.67H74.02V372.97H75.21V376.43H76.40V379.97H78.49V383.57H79.98V387.25H81.17V390.99H82.31V394.81H88.51V398.70H92.33V402.66H93.10V406.70H96.20V410.81H97.69V415.01H105.03V419.30H121.90V423.86H141.88V428.58H149.63V432.10H218.92" fill="none" stroke="#305b82" stroke-width="1.1" stroke-dasharray="2.2,2.3"/>
<path d="M60.90,336.40H61.62V339.99H62.09V343.59H62.69V347.18H62.99V350.78H63.58V354.37H64.36V357.97H65.07V361.56H65.79V365.16H66.62V368.75H68.06V372.47H68.65V376.19H69.13V379.91H69.49V383.63H70.44V387.35H71.34V391.07H72.83V394.79H74.02V398.50H75.21V402.41H76.40V406.31H78.49V410.22H79.98V414.12H81.17V418.03H82.31V421.93H88.51V425.84H92.33V429.74H93.10V433.65H96.20V437.55H97.69V441.46H105.03V445.36H121.90V449.82H141.88V455.18H149.63V462.32H221.60V476.60H221.60" fill="none" stroke="#305b82" stroke-width="1.25"/>
<line x1="67.16" y1="367.45" x2="67.16" y2="370.05" stroke="#1f3f5f" stroke-width="1.5"/>
<line x1="74.61" y1="397.20" x2="74.61" y2="399.80" stroke="#1f3f5f" stroke-width="1.5"/>
<line x1="112.18" y1="444.06" x2="112.18" y2="446.66" stroke="#1f3f5f" stroke-width="1.5"/>
<line x1="128.88" y1="448.52" x2="128.88" y2="451.12" stroke="#1f3f5f" stroke-width="1.5"/>
<line x1="144.38" y1="453.88" x2="144.38" y2="456.48" stroke="#1f3f5f" stroke-width="1.5"/>
<line x1="218.92" y1="461.02" x2="218.92" y2="463.62" stroke="#1f3f5f" stroke-width="1.5"/>
<path d="M60.90,336.40H71.81V354.76H76.82V360.78H78.37V377.30H90.30V382.34H90.72V387.46H93.10V392.69H93.70V397.76H99.66V402.68H104.43V407.79H114.27V413.49H116.71V419.00H119.58V424.80H121.48V430.98H123.51V436.87H125.00V442.49H133.47V448.70H143.49V455.72H168.11V467.09H248.73" fill="none" stroke="#bb3655" stroke-width="1.1" stroke-dasharray="2.2,2.3"/>
<path d="M60.90,336.40H71.81V336.40H76.82V336.40H78.37V341.61H90.30V344.37H90.72V347.32H93.10V350.47H93.70V353.78H99.66V357.23H104.43V360.88H114.27V364.84H116.71V368.98H119.58V373.40H121.48V378.15H123.51V383.17H125.00V388.44H133.47V394.08H143.49V400.03H168.11V401.88H248.73" fill="none" stroke="#bb3655" stroke-width="1.1" stroke-dasharray="2.2,2.3"/>
<path d="M60.90,336.40H71.81V344.41H76.82V348.42H78.37V360.82H90.30V364.96H90.72V369.25H93.10V373.72H93.70V378.20H99.66V382.67H104.43V387.37H114.27V392.62H116.71V397.86H119.58V403.49H121.48V409.58H123.51V415.67H125.00V421.77H133.47V428.62H143.49V436.62H168.11V449.94H248.73" fill="none" stroke="#bb3655" stroke-width="1.25"/>
<line x1="64.48" y1="335.10" x2="64.48" y2="337.70" stroke="#8a1030" stroke-width="1.5"/>
<line x1="77.60" y1="347.12" x2="77.60" y2="349.72" stroke="#8a1030" stroke-width="1.5"/>
<line x1="90.54" y1="363.66" x2="90.54" y2="366.26" stroke="#8a1030" stroke-width="1.5"/>
<line x1="91.31" y1="367.95" x2="91.31" y2="370.55" stroke="#8a1030" stroke-width="1.5"/>
<line x1="101.45" y1="381.37" x2="101.45" y2="383.97" stroke="#8a1030" stroke-width="1.5"/>
<line x1="107.41" y1="386.07" x2="107.41" y2="388.67" stroke="#8a1030" stroke-width="1.5"/>
<line x1="110.99" y1="386.07" x2="110.99" y2="388.67" stroke="#8a1030" stroke-width="1.5"/>
<line x1="117.55" y1="396.56" x2="117.55" y2="399.16" stroke="#8a1030" stroke-width="1.5"/>
<line x1="120.53" y1="402.19" x2="120.53" y2="404.79" stroke="#8a1030" stroke-width="1.5"/>
<line x1="130.43" y1="420.47" x2="130.43" y2="423.07" stroke="#8a1030" stroke-width="1.5"/>
<line x1="141.22" y1="427.32" x2="141.22" y2="429.92" stroke="#8a1030" stroke-width="1.5"/>
<line x1="155.71" y1="435.32" x2="155.71" y2="437.92" stroke="#8a1030" stroke-width="1.5"/>
<line x1="166.45" y1="435.32" x2="166.45" y2="437.92" stroke="#8a1030" stroke-width="1.5"/>
<line x1="232.63" y1="448.64" x2="232.63" y2="451.24" stroke="#8a1030" stroke-width="1.5"/>
<line x1="248.73" y1="448.64" x2="248.73" y2="451.24" stroke="#8a1030" stroke-width="1.5"/>
<text transform="translate(135.00,351.30) scale(1,1.12)" font-size="7.6" text-anchor="start" fill="#222" font-weight="normal" font-style="normal" textLength="73.0" lengthAdjust="spacing">Median OS (95% CI)</text>
<text transform="translate(135.00,360.90) scale(1,1.12)" font-size="7.6" text-anchor="start" fill="#222" font-weight="normal" font-style="normal" textLength="121.9" lengthAdjust="spacing">Trial eligible: 10.1 months (7.3 - NA)</text>
<text transform="translate(135.00,369.80) scale(1,1.12)" font-size="7.6" text-anchor="start" fill="#222" font-weight="normal" font-style="normal" textLength="124.2" lengthAdjust="spacing">Trial ineligible: 2.9 months (1.7 - 5.1)</text>
<text transform="translate(135.00,379.60) scale(1,1.12)" font-size="7.6" fill="#222"><tspan font-style="italic">P</tspan> &lt; .01</text>
<text transform="translate(52.80,523.90) scale(1,1.13)" font-size="7.7" text-anchor="start" fill="#222" font-weight="normal" font-style="normal">Number at risk</text>
<line x1="52.50" y1="529.60" x2="52.50" y2="557.20" stroke="#222" stroke-width="1.3"/>
<line x1="51.85" y1="557.20" x2="248.80" y2="557.20" stroke="#222" stroke-width="1.3"/>
<line x1="49.30" y1="538.10" x2="52.50" y2="538.10" stroke="#222" stroke-width="1.1"/>
<text transform="translate(46.20,540.90) scale(1,1.13)" font-size="7.9" text-anchor="end" fill="#c0304a" font-weight="normal" font-style="normal">Trial eligible</text>
<text transform="translate(60.90,541.00) scale(1,1.13)" font-size="8.3" text-anchor="middle" fill="#222" font-weight="normal" font-style="normal">36</text>
<text transform="translate(78.79,541.00) scale(1,1.13)" font-size="8.3" text-anchor="middle" fill="#222" font-weight="normal" font-style="normal">28</text>
<text transform="translate(96.68,541.00) scale(1,1.13)" font-size="8.3" text-anchor="middle" fill="#222" font-weight="normal" font-style="normal">22</text>
<text transform="translate(114.57,541.00) scale(1,1.13)" font-size="8.3" text-anchor="middle" fill="#222" font-weight="normal" font-style="normal">16</text>
<text transform="translate(132.46,541.00) scale(1,1.13)" font-size="8.3" text-anchor="middle" fill="#222" font-weight="normal" font-style="normal">8</text>
<text transform="translate(150.34,541.00) scale(1,1.13)" font-size="8.3" text-anchor="middle" fill="#222" font-weight="normal" font-style="normal">5</text>
<text transform="translate(168.23,541.00) scale(1,1.13)" font-size="8.3" text-anchor="middle" fill="#222" font-weight="normal" font-style="normal">2</text>
<text transform="translate(186.12,541.00) scale(1,1.13)" font-size="8.3" text-anchor="middle" fill="#222" font-weight="normal" font-style="normal">2</text>
<text transform="translate(204.01,541.00) scale(1,1.13)" font-size="8.3" text-anchor="middle" fill="#222" font-weight="normal" font-style="normal">2</text>
<text transform="translate(221.90,541.00) scale(1,1.13)" font-size="8.3" text-anchor="middle" fill="#222" font-weight="normal" font-style="normal">2</text>
<text transform="translate(239.79,541.00) scale(1,1.13)" font-size="8.3" text-anchor="middle" fill="#222" font-weight="normal" font-style="normal">1</text>
<line x1="49.30" y1="549.90" x2="52.50" y2="549.90" stroke="#222" stroke-width="1.1"/>
<text transform="translate(46.20,552.70) scale(1,1.13)" font-size="7.9" text-anchor="end" fill="#2d5580" font-weight="normal" font-style="normal">Trial ineligible</text>
<text transform="translate(60.90,552.80) scale(1,1.13)" font-size="8.3" text-anchor="middle" fill="#222" font-weight="normal" font-style="normal">39</text>
<text transform="translate(78.79,552.80) scale(1,1.13)" font-size="8.3" text-anchor="middle" fill="#222" font-weight="normal" font-style="normal">17</text>
<text transform="translate(96.68,552.80) scale(1,1.13)" font-size="8.3" text-anchor="middle" fill="#222" font-weight="normal" font-style="normal">10</text>
<text transform="translate(114.57,552.80) scale(1,1.13)" font-size="8.3" text-anchor="middle" fill="#222" font-weight="normal" font-style="normal">7</text>
<text transform="translate(132.46,552.80) scale(1,1.13)" font-size="8.3" text-anchor="middle" fill="#222" font-weight="normal" font-style="normal">5</text>
<text transform="translate(150.34,552.80) scale(1,1.13)" font-size="8.3" text-anchor="middle" fill="#222" font-weight="normal" font-style="normal">2</text>
<text transform="translate(168.23,552.80) scale(1,1.13)" font-size="8.3" text-anchor="middle" fill="#222" font-weight="normal" font-style="normal">2</text>
<text transform="translate(186.12,552.80) scale(1,1.13)" font-size="8.3" text-anchor="middle" fill="#222" font-weight="normal" font-style="normal">2</text>
<text transform="translate(204.01,552.80) scale(1,1.13)" font-size="8.3" text-anchor="middle" fill="#222" font-weight="normal" font-style="normal">2</text>
<text transform="translate(221.90,552.80) scale(1,1.13)" font-size="8.3" text-anchor="middle" fill="#222" font-weight="normal" font-style="normal">0</text>
<text transform="translate(239.79,552.80) scale(1,1.13)" font-size="8.3" text-anchor="middle" fill="#222" font-weight="normal" font-style="normal">0</text>
<line x1="60.90" y1="557.20" x2="60.90" y2="560.60" stroke="#222" stroke-width="1.1"/>
<text transform="translate(60.90,570.90) scale(1,1.13)" font-size="8.3" text-anchor="middle" fill="#333" font-weight="normal" font-style="normal">0</text>
<line x1="78.79" y1="557.20" x2="78.79" y2="560.60" stroke="#222" stroke-width="1.1"/>
<text transform="translate(78.79,570.90) scale(1,1.13)" font-size="8.3" text-anchor="middle" fill="#333" font-weight="normal" font-style="normal">3</text>
<line x1="96.68" y1="557.20" x2="96.68" y2="560.60" stroke="#222" stroke-width="1.1"/>
<text transform="translate(96.68,570.90) scale(1,1.13)" font-size="8.3" text-anchor="middle" fill="#333" font-weight="normal" font-style="normal">6</text>
<line x1="114.57" y1="557.20" x2="114.57" y2="560.60" stroke="#222" stroke-width="1.1"/>
<text transform="translate(114.57,570.90) scale(1,1.13)" font-size="8.3" text-anchor="middle" fill="#333" font-weight="normal" font-style="normal">9</text>
<line x1="132.46" y1="557.20" x2="132.46" y2="560.60" stroke="#222" stroke-width="1.1"/>
<text transform="translate(132.46,570.90) scale(1,1.13)" font-size="8.3" text-anchor="middle" fill="#333" font-weight="normal" font-style="normal">12</text>
<line x1="150.34" y1="557.20" x2="150.34" y2="560.60" stroke="#222" stroke-width="1.1"/>
<text transform="translate(150.34,570.90) scale(1,1.13)" font-size="8.3" text-anchor="middle" fill="#333" font-weight="normal" font-style="normal">15</text>
<line x1="168.23" y1="557.20" x2="168.23" y2="560.60" stroke="#222" stroke-width="1.1"/>
<text transform="translate(168.23,570.90) scale(1,1.13)" font-size="8.3" text-anchor="middle" fill="#333" font-weight="normal" font-style="normal">18</text>
<line x1="186.12" y1="557.20" x2="186.12" y2="560.60" stroke="#222" stroke-width="1.1"/>
<text transform="translate(186.12,570.90) scale(1,1.13)" font-size="8.3" text-anchor="middle" fill="#333" font-weight="normal" font-style="normal">21</text>
<line x1="204.01" y1="557.20" x2="204.01" y2="560.60" stroke="#222" stroke-width="1.1"/>
<text transform="translate(204.01,570.90) scale(1,1.13)" font-size="8.3" text-anchor="middle" fill="#333" font-weight="normal" font-style="normal">24</text>
<line x1="221.90" y1="557.20" x2="221.90" y2="560.60" stroke="#222" stroke-width="1.1"/>
<text transform="translate(221.90,570.90) scale(1,1.13)" font-size="8.3" text-anchor="middle" fill="#333" font-weight="normal" font-style="normal">27</text>
<line x1="239.79" y1="557.20" x2="239.79" y2="560.60" stroke="#222" stroke-width="1.1"/>
<text transform="translate(239.79,570.90) scale(1,1.13)" font-size="8.3" text-anchor="middle" fill="#333" font-weight="normal" font-style="normal">30</text>
<text x="0" y="0" font-size="9.8" text-anchor="middle" fill="#222" stroke="#222" stroke-width="0.28" transform="translate(150.65,585.10) scale(0.72,1.08)">Time (months)</text>
<text transform="translate(274.00,309.30) scale(1,1.0)" font-size="12" text-anchor="start" fill="#000" font-weight="bold" font-style="normal">D</text>
<rect x="351.10" y="313.10" width="6.4" height="6.2" fill="#eea2b0"/>
<line x1="351.10" y1="316.20" x2="357.50" y2="316.20" stroke="#bb3655" stroke-width="1.2"/>
<line x1="354.30" y1="314.70" x2="354.30" y2="317.70" stroke="#8a1030" stroke-width="1.2"/>
<text transform="translate(364.50,318.90) scale(1,1.13)" font-size="7.6" text-anchor="start" fill="#c0304a" font-weight="normal" font-style="normal" textLength="39.1" lengthAdjust="spacingAndGlyphs">Trial eligible</text>
<rect x="417.40" y="313.10" width="6.4" height="6.2" fill="#a9bcd4"/>
<line x1="417.40" y1="316.20" x2="423.80" y2="316.20" stroke="#305b82" stroke-width="1.2"/>
<line x1="420.60" y1="314.70" x2="420.60" y2="317.70" stroke="#1f3f5f" stroke-width="1.2"/>
<text transform="translate(430.80,318.90) scale(1,1.13)" font-size="7.6" text-anchor="start" fill="#2d5580" font-weight="normal" font-style="normal" textLength="45.3" lengthAdjust="spacingAndGlyphs">Trial ineligible</text>
<line x1="322.30" y1="324.30" x2="322.30" y2="483.10" stroke="#222" stroke-width="1.3"/>
<line x1="321.65" y1="483.10" x2="508.80" y2="483.10" stroke="#222" stroke-width="1.3"/>
<line x1="319.10" y1="476.10" x2="322.30" y2="476.10" stroke="#222" stroke-width="1.1"/>
<text transform="translate(315.70,479.00) scale(1,1.13)" font-size="8.3" text-anchor="end" fill="#333" font-weight="normal" font-style="normal">0.0</text>
<line x1="319.10" y1="461.53" x2="322.30" y2="461.53" stroke="#222" stroke-width="1.1"/>
<text transform="translate(315.70,464.43) scale(1,1.13)" font-size="8.3" text-anchor="end" fill="#333" font-weight="normal" font-style="normal">0.1</text>
<line x1="319.10" y1="446.96" x2="322.30" y2="446.96" stroke="#222" stroke-width="1.1"/>
<text transform="translate(315.70,449.86) scale(1,1.13)" font-size="8.3" text-anchor="end" fill="#333" font-weight="normal" font-style="normal">0.2</text>
<line x1="319.10" y1="432.39" x2="322.30" y2="432.39" stroke="#222" stroke-width="1.1"/>
<text transform="translate(315.70,435.29) scale(1,1.13)" font-size="8.3" text-anchor="end" fill="#333" font-weight="normal" font-style="normal">0.3</text>
<line x1="319.10" y1="417.82" x2="322.30" y2="417.82" stroke="#222" stroke-width="1.1"/>
<text transform="translate(315.70,420.72) scale(1,1.13)" font-size="8.3" text-anchor="end" fill="#333" font-weight="normal" font-style="normal">0.4</text>
<line x1="319.10" y1="403.25" x2="322.30" y2="403.25" stroke="#222" stroke-width="1.1"/>
<text transform="translate(315.70,406.15) scale(1,1.13)" font-size="8.3" text-anchor="end" fill="#333" font-weight="normal" font-style="normal">0.5</text>
<line x1="319.10" y1="388.68" x2="322.30" y2="388.68" stroke="#222" stroke-width="1.1"/>
<text transform="translate(315.70,391.58) scale(1,1.13)" font-size="8.3" text-anchor="end" fill="#333" font-weight="normal" font-style="normal">0.6</text>
<line x1="319.10" y1="374.11" x2="322.30" y2="374.11" stroke="#222" stroke-width="1.1"/>
<text transform="translate(315.70,377.01) scale(1,1.13)" font-size="8.3" text-anchor="end" fill="#333" font-weight="normal" font-style="normal">0.7</text>
<line x1="319.10" y1="359.54" x2="322.30" y2="359.54" stroke="#222" stroke-width="1.1"/>
<text transform="translate(315.70,362.44) scale(1,1.13)" font-size="8.3" text-anchor="end" fill="#333" font-weight="normal" font-style="normal">0.8</text>
<line x1="319.10" y1="344.97" x2="322.30" y2="344.97" stroke="#222" stroke-width="1.1"/>
<text transform="translate(315.70,347.87) scale(1,1.13)" font-size="8.3" text-anchor="end" fill="#333" font-weight="normal" font-style="normal">0.9</text>
<line x1="319.10" y1="330.40" x2="322.30" y2="330.40" stroke="#222" stroke-width="1.1"/>
<text transform="translate(315.70,333.30) scale(1,1.13)" font-size="8.3" text-anchor="end" fill="#333" font-weight="normal" font-style="normal">1.0</text>
<line x1="330.50" y1="483.10" x2="330.50" y2="486.50" stroke="#222" stroke-width="1.1"/>
<text transform="translate(330.50,496.80) scale(1,1.13)" font-size="8.3" text-anchor="middle" fill="#333" font-weight="normal" font-style="normal">0</text>
<line x1="347.54" y1="483.10" x2="347.54" y2="486.50" stroke="#222" stroke-width="1.1"/>
<text transform="translate(347.54,496.80) scale(1,1.13)" font-size="8.3" text-anchor="middle" fill="#333" font-weight="normal" font-style="normal">3</text>
<line x1="364.58" y1="483.10" x2="364.58" y2="486.50" stroke="#222" stroke-width="1.1"/>
<text transform="translate(364.58,496.80) scale(1,1.13)" font-size="8.3" text-anchor="middle" fill="#333" font-weight="normal" font-style="normal">6</text>
<line x1="381.62" y1="483.10" x2="381.62" y2="486.50" stroke="#222" stroke-width="1.1"/>
<text transform="translate(381.62,496.80) scale(1,1.13)" font-size="8.3" text-anchor="middle" fill="#333" font-weight="normal" font-style="normal">9</text>
<line x1="398.66" y1="483.10" x2="398.66" y2="486.50" stroke="#222" stroke-width="1.1"/>
<text transform="translate(398.66,496.80) scale(1,1.13)" font-size="8.3" text-anchor="middle" fill="#333" font-weight="normal" font-style="normal">12</text>
<line x1="415.70" y1="483.10" x2="415.70" y2="486.50" stroke="#222" stroke-width="1.1"/>
<text transform="translate(415.70,496.80) scale(1,1.13)" font-size="8.3" text-anchor="middle" fill="#333" font-weight="normal" font-style="normal">15</text>
<line x1="432.74" y1="483.10" x2="432.74" y2="486.50" stroke="#222" stroke-width="1.1"/>
<text transform="translate(432.74,496.80) scale(1,1.13)" font-size="8.3" text-anchor="middle" fill="#333" font-weight="normal" font-style="normal">18</text>
<line x1="449.78" y1="483.10" x2="449.78" y2="486.50" stroke="#222" stroke-width="1.1"/>
<text transform="translate(449.78,496.80) scale(1,1.13)" font-size="8.3" text-anchor="middle" fill="#333" font-weight="normal" font-style="normal">21</text>
<line x1="466.82" y1="483.10" x2="466.82" y2="486.50" stroke="#222" stroke-width="1.1"/>
<text transform="translate(466.82,496.80) scale(1,1.13)" font-size="8.3" text-anchor="middle" fill="#333" font-weight="normal" font-style="normal">24</text>
<line x1="483.86" y1="483.10" x2="483.86" y2="486.50" stroke="#222" stroke-width="1.1"/>
<text transform="translate(483.86,496.80) scale(1,1.13)" font-size="8.3" text-anchor="middle" fill="#333" font-weight="normal" font-style="normal">27</text>
<line x1="500.90" y1="483.10" x2="500.90" y2="486.50" stroke="#222" stroke-width="1.1"/>
<text transform="translate(500.90,496.80) scale(1,1.13)" font-size="8.3" text-anchor="middle" fill="#333" font-weight="normal" font-style="normal">30</text>
<text x="0" y="0" font-size="9.8" text-anchor="middle" fill="#222" stroke="#222" stroke-width="0.28" transform="translate(415.55,511.00) scale(0.72,1.08)">Time (months)</text>
<text x="0" y="0" font-size="10.2" text-anchor="middle" fill="#222" stroke="#222" stroke-width="0.28" transform="translate(298.20,403.25) rotate(-90) scale(0.68,1.08)">Overall survival probability</text>
<path d="M330.50,403.25H391.39" fill="none" stroke="#333" stroke-width="1.05" stroke-dasharray="2.2,2.3"/>
<path d="M343.79,403.25V476.10" fill="none" stroke="#333" stroke-width="1.05" stroke-dasharray="2.2,2.3"/>
<path d="M391.39,403.25V476.10" fill="none" stroke="#333" stroke-width="1.05" stroke-dasharray="2.2,2.3"/>
<path d="M330.50,330.40H331.35V343.08H332.09V350.59H332.37V357.19H332.72V363.30H333.23V369.07H333.68V374.60H334.19V379.93H335.04V385.10H336.18V390.12H337.32V395.01H338.00V399.79H338.74V404.46H339.59V409.03H340.38V413.51H341.58V417.90H342.71V422.19H343.79V426.40H346.69V430.87H348.51V435.22H349.98V439.46H350.78V447.59H356.17V451.46H359.98V455.21H363.10V458.81H366.23V462.24H372.30V465.49H389.17V468.52H390.82V471.26H406.90V473.63H482.16" fill="none" stroke="#305b82" stroke-width="1.1" stroke-dasharray="2.2,2.3"/>
<path d="M330.50,330.40H331.35V330.40H332.09V330.40H332.37V330.40H332.72V330.76H333.23V333.30H333.68V336.09H334.19V339.07H335.04V342.22H336.18V345.51H337.32V348.93H338.00V352.46H338.74V356.10H339.59V359.84H340.38V363.67H341.58V367.59H342.71V371.59H343.79V375.68H346.69V379.99H348.51V384.41H349.98V388.94H350.78V398.32H356.17V403.18H359.98V408.15H363.10V413.25H366.23V418.47H372.30V423.83H389.17V429.30H390.82V434.85H406.90V440.23H482.16" fill="none" stroke="#305b82" stroke-width="1.1" stroke-dasharray="2.2,2.3"/>
<path d="M330.50,330.40H331.35V334.82H332.09V339.23H332.37V343.65H332.72V348.06H333.23V352.48H333.68V356.89H334.19V361.31H335.04V365.72H336.18V370.14H337.32V374.55H338.00V378.97H338.74V383.38H339.59V387.80H340.38V392.21H341.58V396.63H342.71V401.04H343.79V405.46H346.69V410.17H348.51V414.88H349.98V419.59H350.78V429.01H356.17V433.71H359.98V438.42H363.10V443.13H366.23V447.84H372.30V452.55H389.17V457.26H390.82V461.97H406.90V466.68H482.16" fill="none" stroke="#305b82" stroke-width="1.25"/>
<line x1="344.70" y1="404.16" x2="344.70" y2="406.76" stroke="#1f3f5f" stroke-width="1.5"/>
<line x1="410.02" y1="465.38" x2="410.02" y2="467.98" stroke="#1f3f5f" stroke-width="1.5"/>
<line x1="482.16" y1="465.38" x2="482.16" y2="467.98" stroke="#1f3f5f" stroke-width="1.5"/>
<path d="M330.50,330.40H338.51V340.92H340.38V347.18H341.80V352.71H345.21V358.22H346.57V363.62H347.26V368.76H348.62V378.50H358.79V383.16H360.60V387.70H362.31V392.14H370.54V396.93H372.25V401.61H381.05V407.10H384.18V412.42H387.30V417.58H389.57V422.59H391.39V427.90H399.63V435.02H408.49V442.76H415.08V449.86H432.68V460.48H482.72V468.60H509.42" fill="none" stroke="#bb3655" stroke-width="1.1" stroke-dasharray="2.2,2.3"/>
<path d="M330.50,330.40H338.51V330.40H340.38V330.40H341.80V330.40H345.21V330.69H346.57V332.81H347.26V335.18H348.62V340.47H358.79V343.33H360.60V346.30H362.31V349.38H370.54V352.67H372.25V356.07H381.05V359.80H384.18V363.70H387.30V367.76H389.57V371.96H391.39V376.43H399.63V381.35H408.49V386.71H415.08V392.66H432.68V397.28H482.72V403.10H509.42" fill="none" stroke="#bb3655" stroke-width="1.1" stroke-dasharray="2.2,2.3"/>
<path d="M330.50,330.40H338.51V334.04H340.38V337.69H341.80V341.33H345.21V345.18H346.57V349.15H347.26V353.11H348.62V361.05H358.79V365.01H360.60V368.98H362.31V372.95H370.54V377.25H372.25V381.55H381.05V386.52H384.18V391.50H387.30V396.48H389.57V401.45H391.39V406.78H399.63V413.72H408.49V421.51H415.08V429.31H432.68V441.01H482.72V452.71H509.42" fill="none" stroke="#bb3655" stroke-width="1.25"/>
<line x1="333.34" y1="329.10" x2="333.34" y2="331.70" stroke="#8a1030" stroke-width="1.5"/>
<line x1="336.18" y1="329.10" x2="336.18" y2="331.70" stroke="#8a1030" stroke-width="1.5"/>
<line x1="343.00" y1="340.03" x2="343.00" y2="342.63" stroke="#8a1030" stroke-width="1.5"/>
<line x1="343.56" y1="340.03" x2="343.56" y2="342.63" stroke="#8a1030" stroke-width="1.5"/>
<line x1="345.84" y1="343.88" x2="345.84" y2="346.48" stroke="#8a1030" stroke-width="1.5"/>
<line x1="362.99" y1="371.65" x2="362.99" y2="374.25" stroke="#8a1030" stroke-width="1.5"/>
<line x1="367.31" y1="371.65" x2="367.31" y2="374.25" stroke="#8a1030" stroke-width="1.5"/>
<line x1="374.24" y1="380.25" x2="374.24" y2="382.85" stroke="#8a1030" stroke-width="1.5"/>
<line x1="376.51" y1="380.25" x2="376.51" y2="382.85" stroke="#8a1030" stroke-width="1.5"/>
<line x1="378.21" y1="380.25" x2="378.21" y2="382.85" stroke="#8a1030" stroke-width="1.5"/>
<line x1="390.71" y1="400.15" x2="390.71" y2="402.75" stroke="#8a1030" stroke-width="1.5"/>
<line x1="392.98" y1="405.48" x2="392.98" y2="408.08" stroke="#8a1030" stroke-width="1.5"/>
<line x1="395.02" y1="405.48" x2="395.02" y2="408.08" stroke="#8a1030" stroke-width="1.5"/>
<line x1="397.52" y1="405.48" x2="397.52" y2="408.08" stroke="#8a1030" stroke-width="1.5"/>
<line x1="406.33" y1="412.42" x2="406.33" y2="415.02" stroke="#8a1030" stroke-width="1.5"/>
<line x1="420.41" y1="428.01" x2="420.41" y2="430.61" stroke="#8a1030" stroke-width="1.5"/>
<line x1="430.47" y1="428.01" x2="430.47" y2="430.61" stroke="#8a1030" stroke-width="1.5"/>
<line x1="493.52" y1="451.41" x2="493.52" y2="454.01" stroke="#8a1030" stroke-width="1.5"/>
<line x1="509.42" y1="451.41" x2="509.42" y2="454.01" stroke="#8a1030" stroke-width="1.5"/>
<text transform="translate(391.50,337.10) scale(1,1.12)" font-size="7.6" text-anchor="start" fill="#222" font-weight="normal" font-style="normal" textLength="73.0" lengthAdjust="spacing">Median OS (95% CI)</text>
<text transform="translate(391.50,346.50) scale(1,1.12)" font-size="7.6" text-anchor="start" fill="#222" font-weight="normal" font-style="normal" textLength="127.0" lengthAdjust="spacing">Trial eligible: 10.7 months (8.9 - 26.9)</text>
<text transform="translate(391.50,356.20) scale(1,1.12)" font-size="7.6" text-anchor="start" fill="#222" font-weight="normal" font-style="normal" textLength="124.2" lengthAdjust="spacing">Trial ineligible: 2.3 months (1.4 - 4.5)</text>
<text transform="translate(391.50,365.80) scale(1,1.12)" font-size="7.6" fill="#222"><tspan font-style="italic">P</tspan> &lt; .01</text>
<text transform="translate(322.60,523.90) scale(1,1.13)" font-size="7.7" text-anchor="start" fill="#222" font-weight="normal" font-style="normal">Number at risk</text>
<line x1="322.30" y1="529.60" x2="322.30" y2="557.20" stroke="#222" stroke-width="1.3"/>
<line x1="321.65" y1="557.20" x2="508.80" y2="557.20" stroke="#222" stroke-width="1.3"/>
<line x1="319.10" y1="538.10" x2="322.30" y2="538.10" stroke="#222" stroke-width="1.1"/>
<text transform="translate(316.00,540.90) scale(1,1.13)" font-size="7.9" text-anchor="end" fill="#c0304a" font-weight="normal" font-style="normal">Trial eligible</text>
<text transform="translate(330.50,541.00) scale(1,1.13)" font-size="8.3" text-anchor="middle" fill="#222" font-weight="normal" font-style="normal">42</text>
<text transform="translate(347.54,541.00) scale(1,1.13)" font-size="8.3" text-anchor="middle" fill="#222" font-weight="normal" font-style="normal">31</text>
<text transform="translate(364.58,541.00) scale(1,1.13)" font-size="8.3" text-anchor="middle" fill="#222" font-weight="normal" font-style="normal">25</text>
<text transform="translate(381.62,541.00) scale(1,1.13)" font-size="8.3" text-anchor="middle" fill="#222" font-weight="normal" font-style="normal">18</text>
<text transform="translate(398.66,541.00) scale(1,1.13)" font-size="8.3" text-anchor="middle" fill="#222" font-weight="normal" font-style="normal">10</text>
<text transform="translate(415.70,541.00) scale(1,1.13)" font-size="8.3" text-anchor="middle" fill="#222" font-weight="normal" font-style="normal">6</text>
<text transform="translate(432.74,541.00) scale(1,1.13)" font-size="8.3" text-anchor="middle" fill="#222" font-weight="normal" font-style="normal">3</text>
<text transform="translate(449.78,541.00) scale(1,1.13)" font-size="8.3" text-anchor="middle" fill="#222" font-weight="normal" font-style="normal">3</text>
<text transform="translate(466.82,541.00) scale(1,1.13)" font-size="8.3" text-anchor="middle" fill="#222" font-weight="normal" font-style="normal">3</text>
<text transform="translate(483.86,541.00) scale(1,1.13)" font-size="8.3" text-anchor="middle" fill="#222" font-weight="normal" font-style="normal">2</text>
<text transform="translate(500.90,541.00) scale(1,1.13)" font-size="8.3" text-anchor="middle" fill="#222" font-weight="normal" font-style="normal">1</text>
<line x1="319.10" y1="549.90" x2="322.30" y2="549.90" stroke="#222" stroke-width="1.1"/>
<text transform="translate(316.00,552.70) scale(1,1.13)" font-size="7.9" text-anchor="end" fill="#2d5580" font-weight="normal" font-style="normal">Trial ineligible</text>
<text transform="translate(330.50,552.80) scale(1,1.13)" font-size="8.3" text-anchor="middle" fill="#222" font-weight="normal" font-style="normal">33</text>
<text transform="translate(347.54,552.80) scale(1,1.13)" font-size="8.3" text-anchor="middle" fill="#222" font-weight="normal" font-style="normal">14</text>
<text transform="translate(364.58,552.80) scale(1,1.13)" font-size="8.3" text-anchor="middle" fill="#222" font-weight="normal" font-style="normal">7</text>
<text transform="translate(381.62,552.80) scale(1,1.13)" font-size="8.3" text-anchor="middle" fill="#222" font-weight="normal" font-style="normal">5</text>
<text transform="translate(398.66,552.80) scale(1,1.13)" font-size="8.3" text-anchor="middle" fill="#222" font-weight="normal" font-style="normal">3</text>
<text transform="translate(415.70,552.80) scale(1,1.13)" font-size="8.3" text-anchor="middle" fill="#222" font-weight="normal" font-style="normal">1</text>
<text transform="translate(432.74,552.80) scale(1,1.13)" font-size="8.3" text-anchor="middle" fill="#222" font-weight="normal" font-style="normal">1</text>
<text transform="translate(449.78,552.80) scale(1,1.13)" font-size="8.3" text-anchor="middle" fill="#222" font-weight="normal" font-style="normal">1</text>
<text transform="translate(466.82,552.80) scale(1,1.13)" font-size="8.3" text-anchor="middle" fill="#222" font-weight="normal" font-style="normal">1</text>
<text transform="translate(483.86,552.80) scale(1,1.13)" font-size="8.3" text-anchor="middle" fill="#222" font-weight="normal" font-style="normal">0</text>
<text transform="translate(500.90,552.80) scale(1,1.13)" font-size="8.3" text-anchor="middle" fill="#222" font-weight="normal" font-style="normal">0</text>
<line x1="330.50" y1="557.20" x2="330.50" y2="560.60" stroke="#222" stroke-width="1.1"/>
<text transform="translate(330.50,570.90) scale(1,1.13)" font-size="8.3" text-anchor="middle" fill="#333" font-weight="normal" font-style="normal">0</text>
<line x1="347.54" y1="557.20" x2="347.54" y2="560.60" stroke="#222" stroke-width="1.1"/>
<text transform="translate(347.54,570.90) scale(1,1.13)" font-size="8.3" text-anchor="middle" fill="#333" font-weight="normal" font-style="normal">3</text>
<line x1="364.58" y1="557.20" x2="364.58" y2="560.60" stroke="#222" stroke-width="1.1"/>
<text transform="translate(364.58,570.90) scale(1,1.13)" font-size="8.3" text-anchor="middle" fill="#333" font-weight="normal" font-style="normal">6</text>
<line x1="381.62" y1="557.20" x2="381.62" y2="560.60" stroke="#222" stroke-width="1.1"/>
<text transform="translate(381.62,570.90) scale(1,1.13)" font-size="8.3" text-anchor="middle" fill="#333" font-weight="normal" font-style="normal">9</text>
<line x1="398.66" y1="557.20" x2="398.66" y2="560.60" stroke="#222" stroke-width="1.1"/>
<text transform="translate(398.66,570.90) scale(1,1.13)" font-size="8.3" text-anchor="middle" fill="#333" font-weight="normal" font-style="normal">12</text>
<line x1="415.70" y1="557.20" x2="415.70" y2="560.60" stroke="#222" stroke-width="1.1"/>
<text transform="translate(415.70,570.90) scale(1,1.13)" font-size="8.3" text-anchor="middle" fill="#333" font-weight="normal" font-style="normal">15</text>
<line x1="432.74" y1="557.20" x2="432.74" y2="560.60" stroke="#222" stroke-width="1.1"/>
<text transform="translate(432.74,570.90) scale(1,1.13)" font-size="8.3" text-anchor="middle" fill="#333" font-weight="normal" font-style="normal">18</text>
<line x1="449.78" y1="557.20" x2="449.78" y2="560.60" stroke="#222" stroke-width="1.1"/>
<text transform="translate(449.78,570.90) scale(1,1.13)" font-size="8.3" text-anchor="middle" fill="#333" font-weight="normal" font-style="normal">21</text>
<line x1="466.82" y1="557.20" x2="466.82" y2="560.60" stroke="#222" stroke-width="1.1"/>
<text transform="translate(466.82,570.90) scale(1,1.13)" font-size="8.3" text-anchor="middle" fill="#333" font-weight="normal" font-style="normal">24</text>
<line x1="483.86" y1="557.20" x2="483.86" y2="560.60" stroke="#222" stroke-width="1.1"/>
<text transform="translate(483.86,570.90) scale(1,1.13)" font-size="8.3" text-anchor="middle" fill="#333" font-weight="normal" font-style="normal">27</text>
<line x1="500.90" y1="557.20" x2="500.90" y2="560.60" stroke="#222" stroke-width="1.1"/>
<text transform="translate(500.90,570.90) scale(1,1.13)" font-size="8.3" text-anchor="middle" fill="#333" font-weight="normal" font-style="normal">30</text>
<text x="0" y="0" font-size="9.8" text-anchor="middle" fill="#222" stroke="#222" stroke-width="0.28" transform="translate(415.55,585.10) scale(0.72,1.08)">Time (months)</text>
</svg></body></html>
